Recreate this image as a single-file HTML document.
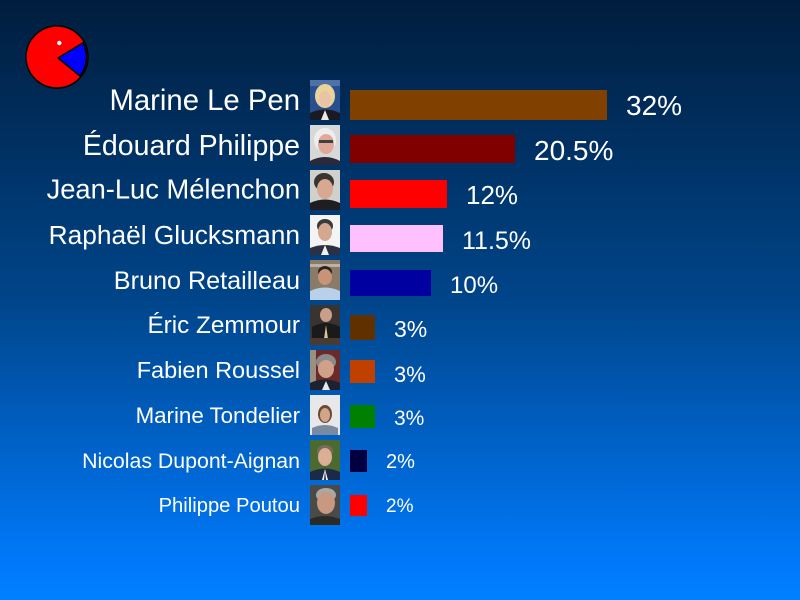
<!DOCTYPE html>
<html><head><meta charset="utf-8"><style>
html,body{margin:0;padding:0;width:800px;height:600px;overflow:hidden;}
svg{display:block;}
text{font-family:"Liberation Sans",Arial,sans-serif;fill:#fff;}
</style></head><body>
<svg width="800" height="600" viewBox="0 0 800 600" xmlns="http://www.w3.org/2000/svg">
<defs>
<linearGradient id="bg" x1="0" y1="0" x2="0" y2="1">
<stop offset="0" stop-color="#001d3d"/>
<stop offset="0.5" stop-color="#00458a"/>
<stop offset="0.93" stop-color="#0078f8"/>
<stop offset="1" stop-color="#0080ff"/>
</linearGradient>
</defs>
<rect width="800" height="600" fill="url(#bg)"/>
<!-- pacman logo -->
<circle cx="57" cy="57" r="31" fill="#ff0000" stroke="#000" stroke-width="1.5"/>
<path d="M58,58 L83,42.8 A31,31 0 0 1 80,76 Z" fill="#0000ff" stroke="#000" stroke-width="1.5" stroke-linejoin="round"/>
<circle cx="59.3" cy="43" r="2.2" fill="#fff"/>

<!-- names -->
<g text-anchor="end">
<text x="300" y="110" font-size="29.3">Marine Le Pen</text>
<text x="300" y="155" font-size="28.5">Édouard Philippe</text>
<text x="300" y="198.5" font-size="27.3">Jean-Luc Mélenchon</text>
<text x="300" y="244" font-size="26.3">Raphaël Glucksmann</text>
<text x="300" y="289" font-size="25.2">Bruno Retailleau</text>
<text x="300" y="333" font-size="24.3">Éric Zemmour</text>
<text x="300" y="378" font-size="23.5">Fabien Roussel</text>
<text x="300" y="423" font-size="22.3">Marine Tondelier</text>
<text x="300" y="468" font-size="21.3">Nicolas Dupont-Aignan</text>
<text x="300" y="512" font-size="20.2">Philippe Poutou</text>
</g>

<!-- bars -->
<rect x="350" y="90" width="257" height="30" fill="#804000"/>
<rect x="350" y="135" width="165" height="28" fill="#800000"/>
<rect x="350" y="180" width="97" height="28" fill="#ff0000"/>
<rect x="350" y="225" width="93" height="27" fill="#ffc0ff"/>
<rect x="350" y="270" width="81" height="26" fill="#0000a0"/>
<rect x="350" y="315" width="25" height="25" fill="#603000"/>
<rect x="350" y="360" width="25" height="23" fill="#c04000"/>
<rect x="350" y="405" width="25" height="23" fill="#008000"/>
<rect x="350" y="450" width="17" height="22" fill="#000040"/>
<rect x="350" y="495" width="17" height="21" fill="#ff0000"/>

<!-- percentages -->
<text x="626" y="115" font-size="28">32%</text>
<text x="534" y="160" font-size="28">20.5%</text>
<text x="466" y="204" font-size="26">12%</text>
<text x="462" y="249" font-size="25">11.5%</text>
<text x="450" y="293" font-size="24">10%</text>
<text x="394" y="337" font-size="23">3%</text>
<text x="394" y="382" font-size="22">3%</text>
<text x="394" y="425" font-size="21">3%</text>
<text x="386" y="468" font-size="20">2%</text>
<text x="386" y="512" font-size="19">2%</text>

<!-- photos -->
<g transform="translate(310,80)">
<rect width="30" height="40" fill="#2a4f8f"/>
<rect y="0" width="30" height="6" fill="#5070a8"/>
<ellipse cx="15" cy="16" rx="10" ry="12" fill="#e8d49a"/>
<ellipse cx="15" cy="19" rx="6" ry="8" fill="#e9c2a8"/>
<path d="M0,40 L0,33 Q15,26 30,33 L30,40 Z" fill="#1a1a24"/>
<path d="M11,40 L15,30 L19,40 Z" fill="#f0e8e0"/>
</g>
<g transform="translate(310,125)">
<rect width="30" height="40" fill="#d8d8d8"/>
<ellipse cx="15" cy="15" rx="11" ry="12" fill="#eeeeee"/>
<ellipse cx="16" cy="19" rx="8" ry="10" fill="#e0a898"/>
<rect x="9" y="15" width="14" height="3" fill="#404040"/>
<path d="M0,40 L0,36 Q15,28 30,36 L30,40 Z" fill="#2a2a3a"/>
</g>
<g transform="translate(310,170)">
<rect width="30" height="40" fill="#d0d0cc"/>
<ellipse cx="14" cy="12" rx="10" ry="9" fill="#3a3430"/>
<ellipse cx="15" cy="19" rx="8" ry="10" fill="#d8a890"/>
<path d="M0,40 L0,33 Q15,26 30,33 L30,40 Z" fill="#1e1e22"/>
</g>
<g transform="translate(310,215)">
<rect width="30" height="40" fill="#f4f4f4"/>
<ellipse cx="15" cy="11" rx="8" ry="7" fill="#3a3a3a"/>
<ellipse cx="15" cy="17" rx="7" ry="9" fill="#d4a890"/>
<path d="M0,40 L0,33 Q15,27 30,33 L30,40 Z" fill="#2c3040"/>
<path d="M11,40 L15,30 L19,40 Z" fill="#f0f0f0"/>
</g>
<g transform="translate(310,260)">
<rect width="30" height="40" fill="#8a7a68"/>
<rect x="0" y="4" width="30" height="3" fill="#c0b0a0"/>
<ellipse cx="15" cy="12" rx="7" ry="6" fill="#2a2420"/>
<ellipse cx="15" cy="17" rx="7" ry="8" fill="#c89478"/>
<path d="M0,40 L0,31 Q15,24 30,31 L30,40 Z" fill="#b8d0e8"/>
</g>
<g transform="translate(310,305)">
<rect width="30" height="40" fill="#3a3430"/>
<ellipse cx="16" cy="10" rx="6" ry="7" fill="#c8a088"/>
<path d="M2,40 L2,22 Q16,14 30,22 L30,40 Z" fill="#1a1a1a"/>
<path d="M14,34 L16,20 L18,34 Z" fill="#d8c898"/>
<rect x="0" y="33" width="30" height="7" fill="#4a3a30"/>
</g>
<g transform="translate(310,350)">
<rect width="30" height="40" fill="#6a2a2a"/>
<rect x="0" y="0" width="6" height="40" fill="#9a9080"/>
<ellipse cx="16" cy="12" rx="10" ry="8" fill="#8a8a8a"/>
<ellipse cx="16" cy="19" rx="8" ry="9" fill="#d0a088"/>
<path d="M0,40 L0,33 Q15,26 30,33 L30,40 Z" fill="#1e2230"/>
<path d="M12,40 L16,31 L20,40 Z" fill="#e8e8e8"/>
</g>
<g transform="translate(310,395)">
<rect width="30" height="40" fill="#e8e8ea"/>
<ellipse cx="15" cy="19" rx="7" ry="9" fill="#6a4a38"/>
<ellipse cx="15" cy="20" rx="5" ry="7" fill="#d4a488"/>
<path d="M2,40 L2,33 Q15,27 28,33 L28,40 Z" fill="#7a8aa0"/>
</g>
<g transform="translate(310,440)">
<rect width="30" height="40" fill="#4a6a30"/>
<ellipse cx="15" cy="11" rx="8" ry="6" fill="#7a6a58"/>
<ellipse cx="15" cy="17" rx="7" ry="9" fill="#dcae94"/>
<path d="M0,40 L0,32 Q15,25 30,32 L30,40 Z" fill="#1c2a48"/>
<path d="M12,40 L15,29 L18,40 Z" fill="#f0f0f0"/>
<path d="M14,40 L15,31 L16,40 Z" fill="#1c2a48"/>
</g>
<g transform="translate(310,485)">
<rect width="30" height="40" fill="#4a4a48"/>
<ellipse cx="16" cy="10" rx="10" ry="7" fill="#a8a8a4"/>
<ellipse cx="16" cy="18" rx="9" ry="11" fill="#c89880"/>
<path d="M0,40 L0,34 Q15,28 30,34 L30,40 Z" fill="#2a2a26"/>
</g>
</svg>
</body></html>
